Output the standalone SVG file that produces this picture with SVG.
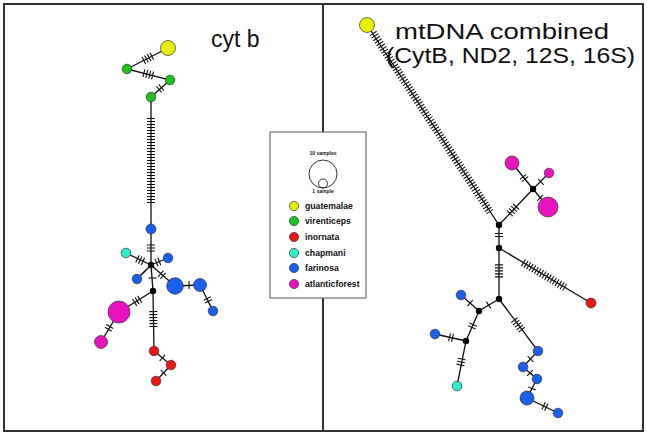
<svg xmlns="http://www.w3.org/2000/svg" width="647" height="436" viewBox="0 0 647 436">
<style>
.e{stroke:#111;stroke-width:1.3;fill:none}
.h{stroke:#111;stroke-width:8;stroke-dasharray:1.1 1.9;fill:none}
.n{stroke:#333;stroke-width:0.7}
.y{fill:#e6f000}.g{fill:#1ec21e}.r{fill:#ee1515}.c{fill:#2ff0cc}.b{fill:#1a5ff0}.m{fill:#ea12c0}
.j{fill:#000}
.t{font-family:"Liberation Sans",Arial,sans-serif;fill:#111}
.lg{font-family:"Liberation Sans",Arial,sans-serif;font-weight:bold;font-size:8.7px;fill:#111}
.sm{font-family:"Liberation Sans",Arial,sans-serif;font-weight:bold;font-size:5px;fill:#111;text-anchor:middle}
</style>
<rect x="0" y="0" width="647" height="436" fill="#fff"/>
<g id="frame" fill="none" stroke="#333" stroke-width="2">
<rect x="4" y="4" width="639" height="427"/>
<line x1="323" y1="4" x2="323" y2="132"/>
<line x1="323" y1="298" x2="323" y2="431"/>
</g>
<g id="titles">
<text class="t" x="211" y="47" font-size="23">cyt b</text>
<text class="t" x="395" y="39" font-size="21.5" textLength="214" lengthAdjust="spacingAndGlyphs">mtDNA combined</text>
<text class="t" x="386" y="63" font-size="21.5" textLength="249" lengthAdjust="spacingAndGlyphs">(CytB, ND2, 12S, 16S)</text>
</g>
<g id="connectors">
<path class="e" d="M168,48L127,69L170,80L151,97L151,229L151,265L153,291L154,351L171,365L156,381"/>
<path class="e" d="M151,265L126,253M151,265L168,258M151,265L137,279M151,265L175,286L200,285L213,311M153,291L119,312L101,342"/>
<path class="h" d="M152.3,56L142.7,61"/>
<path class="h" d="M143.3,73.2L153.7,75.8"/>
<path class="h" d="M161.7,87.1L158.3,89.9"/>
<path class="h" d="M151,118L151,204"/>
<path class="h" d="M151,244.4L151,252.4"/>
<path class="h" d="M152.5,277.4L152.5,278.6"/>
<path class="h" d="M143.4,261.6L136.6,258.4"/>
<path class="h" d="M156,262.8L160,261.2"/>
<path class="h" d="M144.4,272.5L143.6,271.6"/>
<path class="h" d="M160.3,273.5L163.7,276.5"/>
<path class="h" d="M188.5,285L189.6,285"/>
<path class="h" d="M207,298L209,302"/>
<path class="h" d="M140.2,299L133.8,303"/>
<path class="h" d="M110.1,326.1L107.9,329.9"/>
<path class="h" d="M153.3,311L153.5,327"/>
<path class="h" d="M162,357.6L162.9,358.4"/>
<path class="h" d="M163.9,372.6L163.1,373.4"/>
<path class="e" d="M367,25L499,225L533,189M499,225L499,248L499,299L479,311L466,341L457,386M499,248L591,303M533,189L512,163M533,189L549,173M533,189L548,207M479,311L461,295M466,341L435,334M499,299L538,351L523,367L537,379L527,398L558,413"/>
<path class="h" d="M373,33L490,212"/>
<path class="h" d="M509.5,213.7L516.5,206.3"/>
<path class="h" d="M525.3,179.6L522.7,176.4"/>
<path class="h" d="M540.6,182.4L541.4,181.6"/>
<path class="h" d="M539.6,197.6L540.4,198.4"/>
<path class="h" d="M499,233L499,237.2"/>
<path class="h" d="M499,264.3L499,277.5"/>
<path class="h" d="M523,262.4L565,287.5"/>
<path class="h" d="M489,304.7L488.1,305.3"/>
<path class="h" d="M470.5,303.4L469.6,302.6"/>
<path class="h" d="M473.3,324.1L471.7,327.9"/>
<path class="h" d="M453,338L449,337"/>
<path class="h" d="M461.7,358.5L460.3,365.5"/>
<path class="h" d="M514,319.8L522,330.2"/>
<path class="h" d="M530.9,358.6L530.1,359.4"/>
<path class="h" d="M529.6,372.6L530.4,373.4"/>
<path class="h" d="M532.2,388L531.8,389"/>
<path class="h" d="M543.1,405.6L546.9,407.4"/>
</g>
<g id="left-nodes">
<circle id="L-yellow" class="n y" cx="168" cy="48" r="7.5"/>
<circle id="L-green1" class="n g" cx="127" cy="69" r="4.8"/>
<circle id="L-green2" class="n g" cx="170" cy="80" r="4.8"/>
<circle id="L-green3" class="n g" cx="151" cy="97" r="4.8"/>
<circle id="L-blue1" class="n b" cx="151" cy="229" r="5"/>
<circle id="L-j1" class="j" cx="151" cy="265" r="3.2"/>
<circle id="L-j2" class="j" cx="153" cy="291" r="3.2"/>
<circle id="L-cyan" class="n c" cx="126" cy="253" r="4.8"/>
<circle id="L-blue2" class="n b" cx="168" cy="258" r="4.8"/>
<circle id="L-blue3" class="n b" cx="137" cy="279" r="4.8"/>
<circle id="L-blue4" class="n b" cx="175" cy="286" r="8.3"/>
<circle id="L-blue5" class="n b" cx="200" cy="285" r="6.5"/>
<circle id="L-blue6" class="n b" cx="213" cy="311" r="4.8"/>
<circle id="L-mag1" class="n m" cx="119" cy="312" r="11"/>
<circle id="L-mag2" class="n m" cx="101" cy="342" r="6.5"/>
<circle id="L-red1" class="n r" cx="154" cy="351" r="4.8"/>
<circle id="L-red2" class="n r" cx="171" cy="365" r="4.8"/>
<circle id="L-red3" class="n r" cx="156" cy="381" r="4.8"/>
</g>
<g id="right-nodes">
<circle id="R-yellow" class="n y" cx="367" cy="25" r="7.5"/>
<circle id="R-jA" class="j" cx="499" cy="225" r="3.2"/>
<circle id="R-jB" class="j" cx="499" cy="248" r="3.2"/>
<circle id="R-jC" class="j" cx="499" cy="299" r="3.2"/>
<circle id="R-jD" class="j" cx="533" cy="189" r="3.2"/>
<circle id="R-jE" class="j" cx="479" cy="311" r="3.2"/>
<circle id="R-jF" class="j" cx="466" cy="341" r="3.2"/>
<circle id="R-mag1" class="n m" cx="512" cy="163" r="7"/>
<circle id="R-mag2" class="n m" cx="549" cy="173" r="4.8"/>
<circle id="R-mag3" class="n m" cx="548" cy="207" r="10"/>
<circle id="R-red" class="n r" cx="591" cy="303" r="5"/>
<circle id="R-blue1" class="n b" cx="461" cy="295" r="4.8"/>
<circle id="R-blue2" class="n b" cx="435" cy="334" r="4.8"/>
<circle id="R-cyan" class="n c" cx="457" cy="386" r="4.8"/>
<circle id="R-blue3" class="n b" cx="538" cy="351" r="4.8"/>
<circle id="R-blue4" class="n b" cx="523" cy="367" r="4.8"/>
<circle id="R-blue5" class="n b" cx="537" cy="379" r="4.8"/>
<circle id="R-blue6" class="n b" cx="527" cy="398" r="7"/>
<circle id="R-blue7" class="n b" cx="558" cy="413" r="4.8"/>
</g>
<g id="legend">
<rect x="270" y="132" width="96" height="166" fill="#fff" stroke="#555" stroke-width="1"/>
<text class="sm" x="323" y="155">10 samples</text>
<circle cx="323" cy="174" r="14" fill="none" stroke="#333" stroke-width="1"/>
<circle cx="323" cy="183.5" r="4.5" fill="none" stroke="#333" stroke-width="1"/>
<text class="sm" x="323" y="193">1 sample</text>
<circle class="n y" cx="294" cy="206" r="4.6"/><text class="lg" x="305" y="209">guatemalae</text>
<circle class="n g" cx="294" cy="221" r="4.6"/><text class="lg" x="305" y="224">virenticeps</text>
<circle class="n r" cx="294" cy="237" r="4.6"/><text class="lg" x="305" y="240">inornata</text>
<circle class="n c" cx="294" cy="253" r="4.6"/><text class="lg" x="305" y="256">chapmani</text>
<circle class="n b" cx="294" cy="268" r="4.6"/><text class="lg" x="305" y="271">farinosa</text>
<circle class="n m" cx="294" cy="284" r="4.6"/><text class="lg" x="305" y="287">atlanticforest</text>
</g>
</svg>
